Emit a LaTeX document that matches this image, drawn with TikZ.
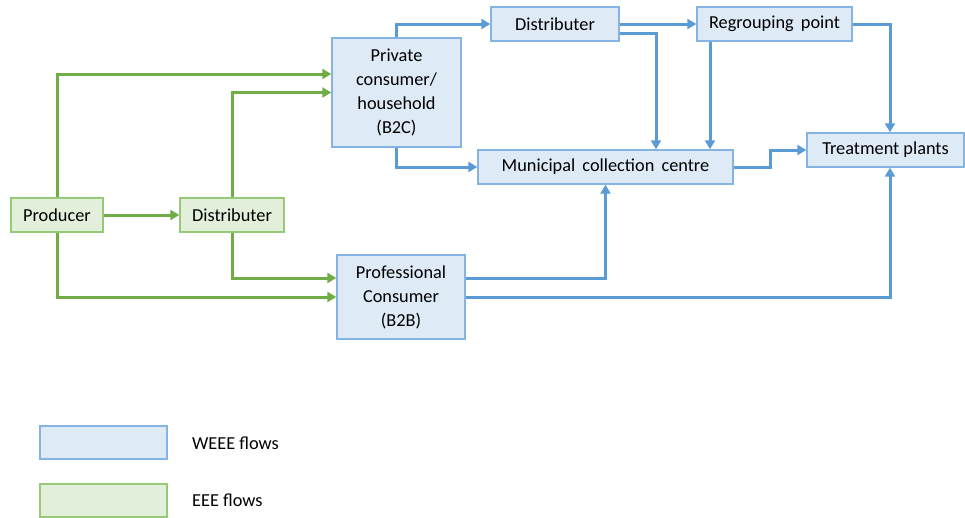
\documentclass[tikz,border=0pt]{standalone}
\usepackage{fontspec}
\setmainfont{Carlito}
\usetikzlibrary{arrows.meta}
\definecolor{weeeline}{HTML}{5B9BD5}
\definecolor{weeefill}{HTML}{DEEBF7}
\definecolor{weeeedge}{HTML}{86B4E2}
\definecolor{eeeline}{HTML}{70AD47}
\definecolor{eeefill}{HTML}{E2EFDA}
\definecolor{eeeedge}{HTML}{97C976}
\tikzset{
  box/.style={draw, line width=1.4pt, inner sep=0pt, align=center,
    font=\fontsize{18.3}{24}\selectfont},
  bluebox/.style={box, draw=weeeedge, fill=weeefill},
  greenbox/.style={box, draw=eeeedge, fill=eeefill},
  flow/.style={line width=3pt, -{Triangle[length=9pt,width=10pt]}},
  weee/.style={flow, draw=weeeline},
  eee/.style={flow, draw=eeeline},
  legendtext/.style={anchor=west, inner sep=0pt, font=\fontsize{18.3}{24}\selectfont}
}
\begin{document}
\begin{tikzpicture}[x=1pt,y=-1pt]
\useasboundingbox (0,0) rectangle (965,517);

% actors
\node[greenbox, minimum width=92pt, minimum height=34pt] (prod) at (57,215) {Producer};
\node[greenbox, minimum width=104pt, minimum height=34pt] (dist1) at (232,215) {Distributer};
\node[bluebox, minimum width=129pt, minimum height=109pt] (priv) at (396.5,92.5) {Private\\consumer/\\household\\(B2C)};
\node[bluebox, minimum width=128pt, minimum height=84pt] (prof) at (401,297) {Professional\\Consumer\\(B2B)};
\node[bluebox, minimum width=128pt, minimum height=34pt] (dist2) at (555,24) {Distributer};
\node[bluebox, minimum width=155pt, minimum height=34pt] (regr) at (774.5,24) {Regrouping\ \,point};
\node[bluebox, minimum width=255pt, minimum height=34pt] (muni) at (605.5,167) {Municipal\ \,collection\ \,centre};
\node[bluebox, minimum width=157pt, minimum height=34pt] (treat) at (885.5,150) {Treatment plants};

% EEE flows
\draw[eee] (prod) -- (dist1);
\draw[eee] (prod.north) |- ([yshift=18.5pt]priv.west);
\draw[eee] (dist1.north) |- (priv.west);
\draw[eee] (dist1.south) |- ([yshift=19pt]prof.west);
\draw[eee] (prod.south) |- (prof.west);

% WEEE flows
\draw[weee] (priv.north) |- (dist2.west);
\draw[weee] (priv.south) |- (muni.west);
\draw[weee] (dist2.east) -- (regr.west);
\draw[weee] ([yshift=-9pt]dist2.east) -| ([xshift=50.5pt]muni.north);
\draw[weee] ([xshift=-64.5pt]regr.south) -- ([xshift=-64.5pt]regr.south |- muni.north);
\draw[weee] (regr.east) -| ([xshift=4.5pt]treat.north);
\draw[weee] (muni.east) -- ++(37,0) |- (treat.west);
\draw[weee] ([yshift=19pt]prof.east) -| (muni.south);
\draw[weee] (prof.east) -| ([xshift=4.5pt]treat.south);

% legend
\node[bluebox, minimum width=127pt, minimum height=33pt] (lgw) at (103.5,442.5) {};
\node[greenbox, minimum width=127pt, minimum height=33pt] (lge) at (103.5,500.5) {};
\node[legendtext] (lgwt) at (192,443) {WEEE flows};
\node[legendtext] (lget) at (192,500) {EEE flows};
\end{tikzpicture}
\end{document}
